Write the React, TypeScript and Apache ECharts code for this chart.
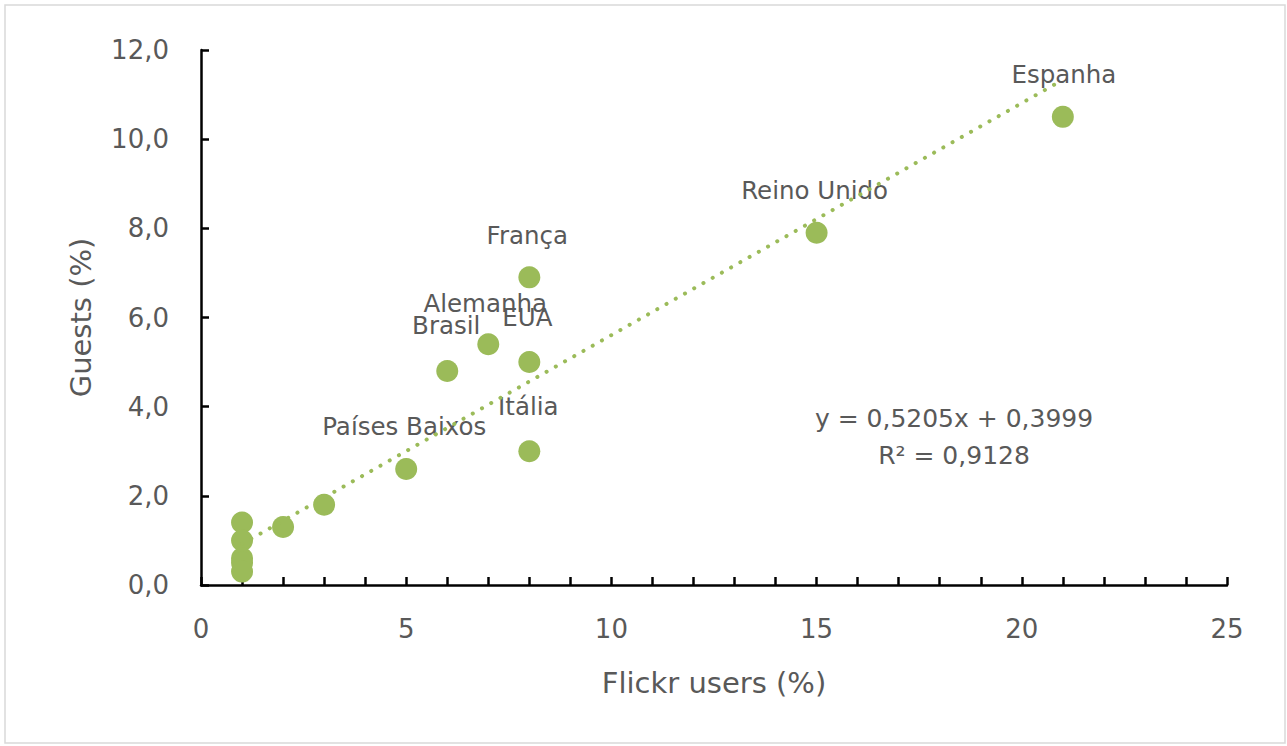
import React, { useEffect, useRef } from "react";
import * as echarts from "echarts";

// Data
const flickrUsers = [21, 15, 8, 7, 8, 6, 8, 5, 3, 2, 1, 1, 1, 1, 1];
const guests = [10.5, 7.9, 6.9, 5.4, 5.0, 4.8, 3.0, 2.6, 1.8, 1.3, 1.4, 1.0, 0.6, 0.5, 0.3];
const countries = [
  "Espanha",
  "Reino Unido",
  "França",
  "Alemanha",
  "EUA",
  "Brasil",
  "Itália",
  "Países Baixos",
  "",
  "",
  "",
  "",
  "",
  "",
  "",
];

// Trendline (linear fit shown on the chart)
const trendSlope = 0.5205;
const trendIntercept = 0.3999;
const trendRange = [1, 21];
const equationLines = ["y = 0,5205x + 0,3999", "R² = 0,9128"];

// Label offsets (style only)
const labelOffsets: number[][] = [
  [1, -42],
  [-2, -42],
  [-2, -42],
  [-3, -41],
  [-2, -45],
  [-1, -46],
  [-1, -45],
  [-2, -43],
];

const GREEN = "#9BBB59";
const TEXT = "#595959";
const FONT = "DejaVu Sans";

export default function App() {
  const ref = useRef<HTMLDivElement>(null);
  useEffect(() => {
    const chart = echarts.init(ref.current!, null, { renderer: "svg" });
    const scatterData = flickrUsers.map((x, i) => {
      const name = countries[i];
      const item: any = { value: [x, guests[i]], name };
      if (name) {
        item.label = {
          show: true,
          position: "inside",
          offset: labelOffsets[i],
          formatter: name,
          color: TEXT,
          fontSize: 24.5,
          fontFamily: FONT,
        };
      }
      return item;
    });
    const trendData = trendRange.map((x) => [x, trendSlope * x + trendIntercept]);
    const axisLineStyle = { color: "#000", width: 2.5 };
    chart.setOption({
      animation: false,
      backgroundColor: "#fff",
      grid: { left: 201, right: 60, top: 50, bottom: 161 },
      graphic: [
        {
          type: "rect",
          shape: { x: 5, y: 5, width: 1280, height: 738 },
          style: { fill: "none", stroke: "#d9d9d9", lineWidth: 1.5 },
          silent: true,
          z: -10,
        },
        {
          type: "text",
          x: 954,
          y: 418,
          style: {
            text: equationLines[0],
            fill: TEXT,
            fontSize: 25,
            fontFamily: FONT,
            textAlign: "center",
            textVerticalAlign: "middle",
          },
        },
        {
          type: "text",
          x: 954,
          y: 455,
          style: {
            text: equationLines[1],
            fill: TEXT,
            fontSize: 25,
            fontFamily: FONT,
            textAlign: "center",
            textVerticalAlign: "middle",
          },
        },
      ],
      xAxis: {
        type: "value",
        min: 0,
        max: 25,
        interval: 5,
        name: "Flickr users (%)",
        nameLocation: "middle",
        nameGap: 98,
        nameTextStyle: { color: TEXT, fontSize: 29, fontFamily: FONT, verticalAlign: "middle" },
        axisLine: { show: true, lineStyle: axisLineStyle },
        axisTick: { show: true, inside: true, length: 8, lineStyle: axisLineStyle },
        minorTick: { show: true, splitNumber: 5, length: 8, lineStyle: axisLineStyle },
        splitLine: { show: false },
        minorSplitLine: { show: false },
        axisLabel: {
          color: TEXT,
          fontSize: 26,
          fontFamily: FONT,
          margin: 44,
          verticalAlign: "middle",
        },
      },
      yAxis: {
        type: "value",
        min: 0,
        max: 12,
        interval: 2,
        name: "Guests (%)",
        nameLocation: "middle",
        nameGap: 120,
        nameRotate: 90,
        nameTextStyle: { color: TEXT, fontSize: 29, fontFamily: FONT, verticalAlign: "middle" },
        axisLine: { show: true, lineStyle: axisLineStyle },
        axisTick: { show: true, inside: true, length: 8, lineStyle: axisLineStyle },
        splitLine: { show: false },
        axisLabel: {
          color: TEXT,
          fontSize: 26,
          fontFamily: FONT,
          margin: 32,
          formatter: (v: number) => v.toFixed(1).replace(".", ","),
        },
      },
      series: [
        {
          type: "scatter",
          data: scatterData,
          symbol: "circle",
          symbolSize: 22,
          itemStyle: { color: GREEN, opacity: 1 },
          label: { show: false },
          z: 2,
        },
        {
          type: "line",
          data: trendData,
          showSymbol: false,
          symbol: "none",
          lineStyle: { color: GREEN, width: 4, type: [0.1, 10.5], cap: "round" },
          z: 3,
          silent: true,
        },
      ],
    });
    return () => chart.dispose();
  }, []);
  return (
    <div
      ref={ref}
      style={{ position: "fixed", left: 0, top: 0, width: 1287, height: 746, background: "#fff" }}
    />
  );
}
